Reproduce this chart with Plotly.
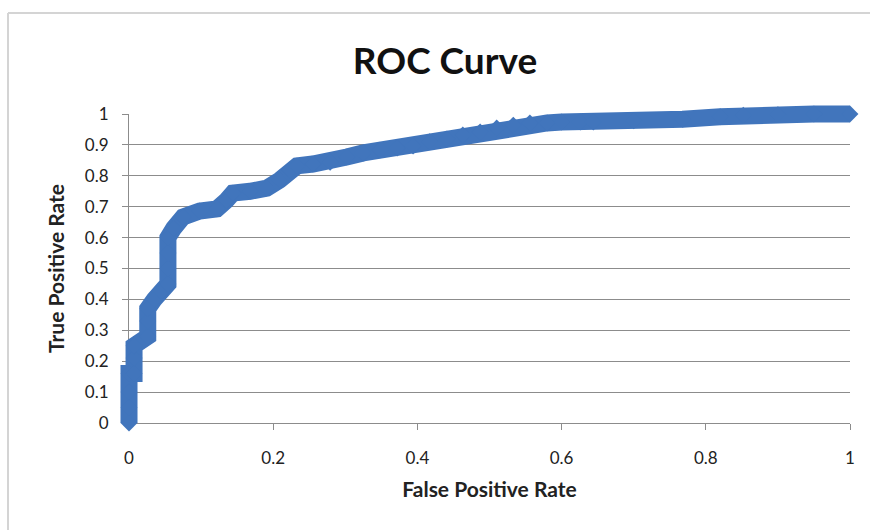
import plotly.graph_objects as go

# ROC curve points (false positive rate, true positive rate)
fpr = [0.000, 0.000, 0.000, 0.000, 0.007, 0.007, 0.007, 0.026, 0.026, 0.026,
       0.035, 0.045, 0.054, 0.054, 0.054, 0.054, 0.062, 0.075, 0.098, 0.122,
       0.135, 0.144, 0.168, 0.191, 0.209, 0.223, 0.233, 0.255, 0.279, 0.302,
       0.325, 0.348, 0.372, 0.394, 0.417, 0.441, 0.463, 0.487, 0.510, 0.533,
       0.556, 0.580, 0.600, 0.626, 0.644, 0.700, 0.768, 0.820, 0.852, 0.900,
       0.950, 1.000]
tpr = [0.000, 0.050, 0.100, 0.160, 0.160, 0.210, 0.250, 0.280, 0.330, 0.370,
       0.400, 0.425, 0.450, 0.500, 0.550, 0.600, 0.630, 0.667, 0.686, 0.693,
       0.720, 0.744, 0.750, 0.760, 0.786, 0.819, 0.832, 0.838, 0.844, 0.861,
       0.874, 0.883, 0.890, 0.896, 0.910, 0.919, 0.932, 0.942, 0.955, 0.964,
       0.971, 0.971, 0.974, 0.974, 0.974, 0.978, 0.983, 0.991, 0.996, 0.998,
       1.000, 1.000]

x_ticks = [0, 0.2, 0.4, 0.6, 0.8, 1]
x_labels = ["0", "0.2", "0.4", "0.6", "0.8", "1"]
y_ticks = [0, 0.1, 0.2, 0.3, 0.4, 0.5, 0.6, 0.7, 0.8, 0.9, 1]
y_labels = ["0", "0.1", "0.2", "0.3", "0.4", "0.5", "0.6", "0.7", "0.8", "0.9", "1"]

BLUE = "#4175BC"
GRID = "#8C8C8C"
FONT = "Lato, Open Sans, sans-serif"

W, H = 870, 530
# plot area in pixels
X0, X1 = 129, 850
Y1, Y0 = 114, 423  # top (value 1), bottom (value 0)

def fx(px):
    return px / W

def fy(py):
    return 1 - py / H

# The curve lives on a hidden full-canvas axis pair whose scale matches the
# visible axes, so the thick band is not clipped at the plot edges.
sx = (X1 - X0)
sy = (Y0 - Y1)
curve_xrange = [(0 - X0) / sx, (W - X0) / sx]
curve_yrange = [(Y0 - H) / sy, Y0 / sy]

fig = go.Figure()
# anchor trace so the visible axes (grid, ticks, titles) are drawn
fig.add_trace(go.Scatter(
    x=fpr[:1], y=tpr[:1], mode="markers",
    marker=dict(opacity=0, size=1),
    showlegend=False, hoverinfo="skip",
))
fig.add_trace(go.Scatter(
    x=fpr, y=tpr,
    xaxis="x2", yaxis="y2",
    mode="lines+markers",
    line=dict(color=BLUE, width=17),
    marker=dict(symbol="diamond", size=13, color=BLUE),
    cliponaxis=False,
    showlegend=False,
    hoverinfo="skip",
))

# chart area border (left and top edges)
border = dict(color="#D4D4D4", width=2)
fig.add_shape(type="line", xref="paper", yref="paper",
              x0=fx(8), x1=fx(8), y0=fy(13), y1=fy(H + 5), line=border)
fig.add_shape(type="line", xref="paper", yref="paper",
              x0=fx(8), x1=fx(W + 5), y0=fy(13), y1=fy(13), line=border)

fig.update_layout(
    template="none",
    width=W, height=H,
    margin=dict(l=0, r=0, t=0, b=0, autoexpand=False),
    paper_bgcolor="white",
    plot_bgcolor="rgba(0,0,0,0)",
    font=dict(family=FONT, color="#222222"),
    title=dict(text="<b>ROC Curve</b>", x=445 / W, xanchor="center",
               y=1 - 61 / H, yanchor="middle", automargin=False,
               font=dict(size=37, family=FONT, color="#111111")),
    xaxis=dict(
        domain=[fx(X0), fx(X1)], anchor="y", automargin=False,
        range=[0, 1], tickmode="array", tickvals=x_ticks, ticktext=x_labels,
        showgrid=False, zeroline=False,
        showline=True, linecolor=GRID, linewidth=1,
        ticks="outside", ticklen=6, tickcolor=GRID,
        tickfont=dict(size=17, family=FONT, color="#222222"),
        ticklabelstandoff=14,
        title=dict(text="<b>False Positive Rate</b>", standoff=14,
                   font=dict(size=21, family=FONT, color="#222222")),
    ),
    yaxis=dict(
        domain=[fy(Y0), fy(Y1)], anchor="x", automargin=False,
        range=[0, 1], tickmode="array", tickvals=y_ticks, ticktext=y_labels,
        showgrid=True, gridcolor=GRID, gridwidth=1,
        zeroline=False,
        showline=True, linecolor=GRID, linewidth=1,
        ticks="outside", ticklen=6, tickcolor=GRID,
        tickfont=dict(size=17, family=FONT, color="#222222"),
        ticklabelstandoff=10,
        title=dict(text="<b>True Positive Rate</b>", standoff=14,
                   font=dict(size=21, family=FONT, color="#222222")),
    ),
    xaxis2=dict(domain=[0, 1], range=curve_xrange, visible=False,
                anchor="y2", fixedrange=True, automargin=False),
    yaxis2=dict(domain=[0, 1], range=curve_yrange, visible=False,
                anchor="x2", fixedrange=True, automargin=False),
)

fig.write_html("out.html")
